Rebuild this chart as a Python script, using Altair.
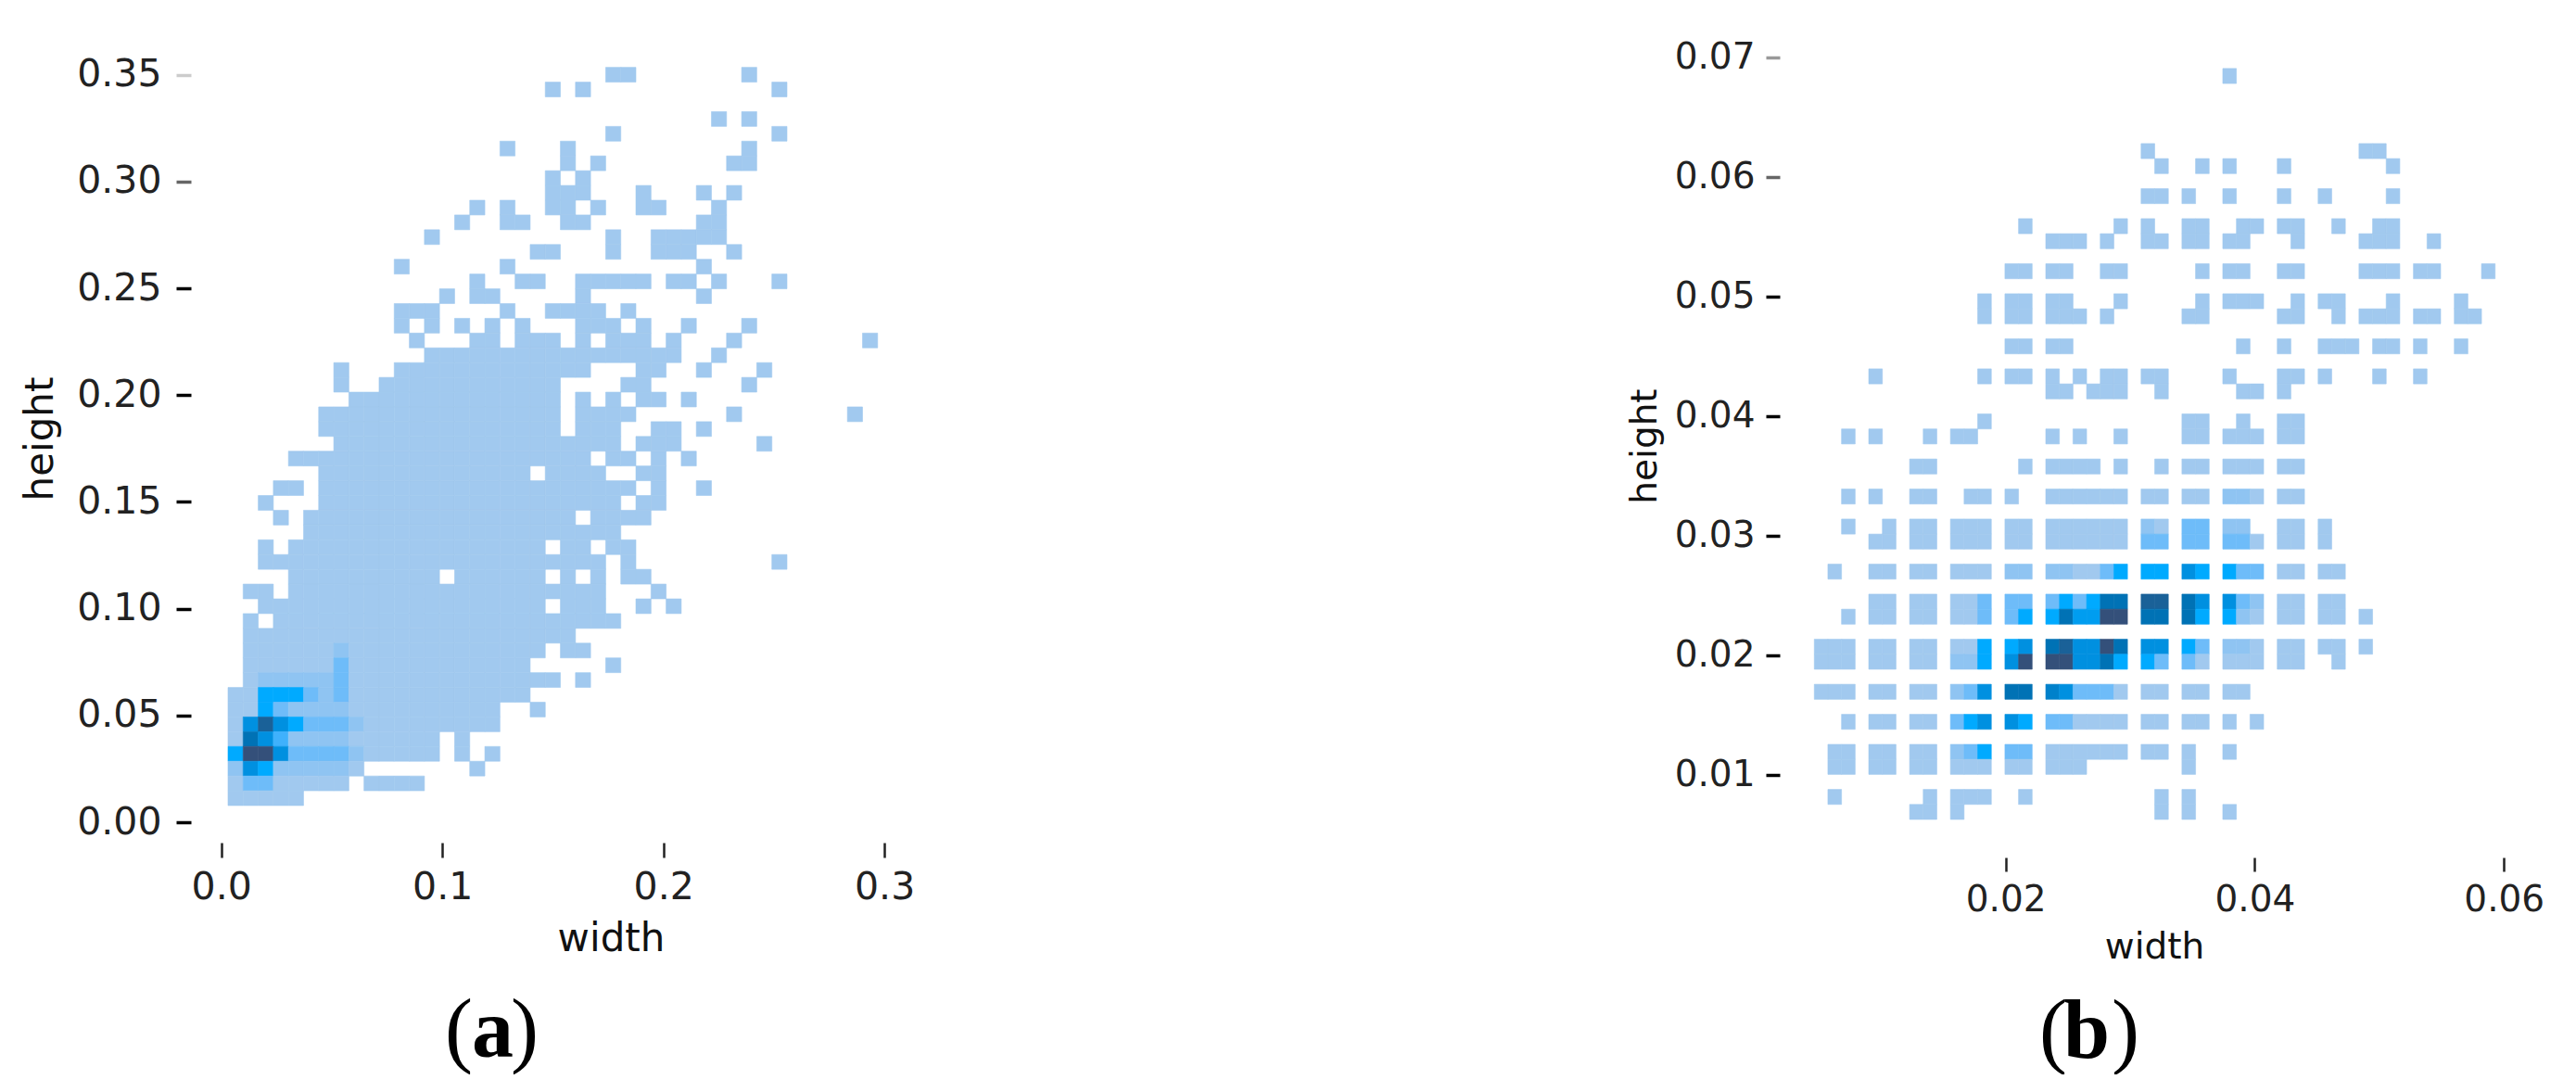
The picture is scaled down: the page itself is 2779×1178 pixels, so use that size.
import altair as alt
import pandas as pd

FONT = "DejaVu Sans"
LEVEL_STOPS = [1, 1.5, 2, 2.5, 3, 4, 5, 6]
LEVEL_COLORS = ["#a1c9ef", "#8fc4f2", "#6ebcf9", "#3fb1fc", "#00aaff", "#0090e0", "#0072b5", "#34507a"]

# panel (a): occupied bins per height-bin index (width-bin indices)
A_ROWS = {
    49: "25-26 34", 48: "21 23 36", 46: "32 34", 45: "25 36", 44: "18 22 34",
    43: "22 24 33-34", 42: "21 23", 41: "21-23 27 31 33", 40: "16 18 21-22 24 27-28 32",
    39: "15 18-19 22-23 31-32", 38: "13 25 28-32", 37: "20-21 25 28-30 33", 36: "11 18 31",
    35: "16 19-20 23-27 29-30 32 36", 34: "14 16-17 23 31", 33: "11-13 18 21-24 26",
    32: "11 13 15 17 19 23-25 27 30 34", 31: "12 16-17 19-21 23 25-27 29 33 42",
    30: "13-29 32", 29: "7 11-23 27-28 31 35", 28: "7 10-21 26-27 34",
    27: "8-21 23 25 27-28 30", 26: "6-21 23-26 33 41", 25: "6-21 23-25 28-29 31",
    24: "7-25 27-29 35", 23: "4-23 25-26 28 30", 22: "6-19 21-24 27-28",
    21: "3-4 6-26 28 31", 20: "2 6-25 27-28", 19: "3 5-22 24-27", 18: "5-25",
    17: "2 4-20 22-23 25-26", 16: "2-24 26 36", 15: "4-13 15-20 22 24 26-27",
    14: "1-2 4-24 28", 13: "2-20 22-24 27 29", 12: "1 3-25", 11: "1-22",
    10: "1-20 22-23", 9: "1-19 25", 8: "1-21 23", 7: "0-19", 6: "0-17 20", 5: "0-17",
    4: "0-13 15", 3: "0-13 15 17", 2: "0-8 16", 1: "0-7 9-12", 0: "0-4",
}
# denser bins of (a): {height bin: {width bin: level}}
A_LEVELS = {
    10: {7: 1.5}, 9: {7: 2}, 8: {2: 1.5, 3: 1.5, 4: 1.5, 5: 1.5, 6: 1.5, 7: 2},
    7: {2: 3, 3: 3, 4: 3, 5: 2, 6: 1.5, 7: 2},
    6: {2: 3, 3: 2, 4: 1.5, 5: 1.5, 6: 1.5, 7: 1.5},
    5: {1: 4, 2: 5.5, 3: 4, 4: 3, 5: 2, 6: 2, 7: 2, 8: 1.5},
    4: {1: 5, 2: 4, 3: 2.5, 4: 1.5, 5: 1.5, 6: 1.5, 7: 1.5},
    3: {0: 3, 1: 6, 2: 6, 3: 4, 4: 2, 5: 2, 6: 2, 7: 2, 8: 1.5},
    2: {0: 1.5, 1: 4, 2: 3, 3: 1.5, 4: 1.5, 5: 1.5, 6: 1.5, 7: 1.5},
    1: {1: 2, 2: 2},
}

# panel (b)
B_ROWS = {
    49: "30", 44: "24 40-41", 43: "25 28 30 34 42", 41: "24-25 27 30 34 37 42",
    39: "15 22 24 27-28 31-32 34-35 38 41-42", 38: "17-19 21 24-25 27-28 30-31 35 40-42 45",
    36: "14-15 17-18 21-22 28 30-31 34-35 40-42 44-45 49",
    34: "12 14-15 17-18 22 28 30-32 35 37-38 42 47",
    33: "12 14-15 17-19 21 27-28 34-35 38 40-42 44-45 47-48",
    31: "14-15 17-18 31 34 37-39 41-42 44 47",
    29: "4 12 14-15 17 19 21-22 24-25 30 34-35 37 41 44",
    28: "17-18 20-22 25 31-32 34",
    26: "12 27-28 31 34-35", 25: "2 4 8 10-11 17 19 22 27-28 30-32 34-35",
    23: "7-8 15 17-20 22 25 27-28 30-32 34-35",
    21: "2 4 7-8 11-12 14 17-22 24-25 27-28 30-32 34-35",
    19: "2 5 7-8 10-12 14-15 17-22 24-25 27-28 30-31 34-35 37",
    18: "4-5 7-8 10-12 14-15 17-22 24-25 27-28 30-32 34-35 37",
    16: "1 4-5 7-8 10-12 14-15 17-22 24-25 27-28 30-32 34-35 37-38",
    14: "4-5 7-8 10-12 14-15 17-22 24-25 27-28 30-32 34-35 37-38",
    13: "2 4-5 7-8 10-12 14-15 17-22 24-25 27-28 30-32 34-35 37-38 40",
    11: "0-2 4-5 7-8 10-12 14-15 17-22 24-25 27-28 30-32 34-35 37-38 40",
    10: "0-2 4-5 7-8 10-12 14-15 17-22 24-25 27-28 30-32 34-35 38",
    8: "0-2 4-5 7-8 10-12 14-15 17-22 24-25 27-28 30-31",
    6: "2 4-5 7-8 10-12 14-15 17-22 24-25 27-28 30 32",
    4: "1-2 4-5 7-8 10-12 14-15 17-22 24-25 27 30",
    3: "1-2 4-5 7-8 10-12 14-15 17-19 27",
    1: "1 8 10-12 15 25 27", 0: "7-8 10 25 27 30",
}
B_LEVELS = {
    21: {30: 1.5, 31: 1.5}, 19: {24: 1.5, 27: 2, 28: 2, 30: 1.5, 31: 1.5},
    18: {24: 2, 25: 2, 27: 2, 28: 2, 30: 2, 31: 2},
    16: {14: 1.5, 15: 1.5, 17: 1.5, 18: 1.5, 21: 2, 22: 3, 24: 3, 25: 3, 27: 4, 28: 3, 30: 3, 31: 2, 32: 2},
    14: {12: 2, 14: 2, 15: 2, 17: 2, 18: 3, 19: 2, 20: 3, 21: 5, 22: 5, 24: 5.5, 25: 5.5, 27: 5, 28: 4, 30: 4, 31: 2, 32: 1.5},
    13: {12: 2, 14: 2, 15: 3, 17: 3, 18: 5, 19: 3.5, 20: 3.5, 21: 6, 22: 6, 24: 5, 25: 5, 27: 5, 28: 3, 30: 3, 31: 1.5},
    11: {12: 3, 14: 3, 15: 4, 17: 5, 18: 5.5, 19: 4, 20: 4, 21: 6, 22: 5, 24: 4, 25: 4, 27: 3, 28: 2, 30: 1.5, 31: 1.5},
    10: {10: 1.5, 11: 1.5, 12: 3, 14: 4, 15: 6, 17: 6, 18: 6, 19: 4, 20: 4, 21: 5, 22: 3, 24: 3, 25: 2, 27: 2},
    8: {10: 1.5, 11: 2, 12: 4, 14: 5, 15: 5, 17: 4.5, 18: 4, 19: 2, 20: 2, 21: 2},
    6: {10: 2, 11: 3, 12: 4, 14: 4, 15: 3, 17: 2, 18: 2},
    4: {10: 1.5, 11: 2, 12: 3, 14: 2, 15: 2},
}

A_XTICKS = [0.0, 0.1, 0.2, 0.3]
A_YTICKS = [0.0, 0.05, 0.10, 0.15, 0.20, 0.25, 0.30, 0.35]
B_XTICKS = [0.02, 0.04, 0.06]
B_YTICKS = [0.01, 0.02, 0.03, 0.04, 0.05, 0.06, 0.07]

A_BINS = dict(x0=0.00306, dx=0.006834, y0=0.00782, dy=0.006913)
B_BINS = dict(x0=0.004643, dx=0.001093, y0=0.00628, dy=0.001256)


def cells(rows, levels, b):
    out = []
    for r, spec in rows.items():
        for part in spec.split():
            lo, _, hi = part.partition("-")
            for c in range(int(lo), int(hi or lo) + 1):
                out.append({
                    "width": b["x0"] + c * b["dx"], "width2": b["x0"] + (c + 1) * b["dx"],
                    "height": b["y0"] + r * b["dy"], "height2": b["y0"] + (r + 1) * b["dy"],
                    "level": levels.get(r, {}).get(c, 1),
                })
    return pd.DataFrame(out)


def caption(text, x, y, bold=False):
    return alt.Chart(pd.DataFrame({"t": [text]})).mark_text(
        font="Liberation Serif", fontSize=90, align="left", baseline="alphabetic",
        fontWeight="bold" if bold else "normal", color="#000000",
    ).encode(x=alt.value(x), y=alt.value(y), text="t:N")


def panel(df, xdom, ydom, xticks, yticks, xfmt, yfmt, w, h, fs, ts, tl, xpad, ypad, xtit, ytit, caps, ycond):
    color = alt.Color("level:Q", legend=None,
                      scale=alt.Scale(domain=LEVEL_STOPS, range=LEVEL_COLORS, interpolate="rgb"))
    stroke = alt.Stroke("level:Q", legend=None,
                        scale=alt.Scale(domain=LEVEL_STOPS, range=LEVEL_COLORS, interpolate="rgb"))
    rect = alt.Chart(df).mark_rect(strokeWidth=0.6).encode(
        x=alt.X("width:Q", scale=alt.Scale(domain=xdom, nice=False, zero=False),
                axis=alt.Axis(values=xticks, format=xfmt, title="width", grid=False, domain=False,
                              offset=7, tickSize=tl, tickWidth=2.5, tickColor="#222222",
                              labelFont=FONT, labelFontSize=fs, labelColor="#222222", labelPadding=xpad,
                              labelFlush=False, labelOverlap=False,
                              titleFont=FONT, titleFontSize=ts, titleFontWeight="normal", titleColor="#111111",
                              titlePadding=xtit)),
        x2="width2:Q",
        y=alt.Y("height:Q", scale=alt.Scale(domain=ydom, nice=False, zero=False),
                axis=alt.Axis(values=yticks, format=yfmt, title="height", grid=False, domain=False,
                              tickSize=tl, tickWidth=3.5, tickColor=ycond,
                              labelFont=FONT, labelFontSize=fs, labelColor="#222222", labelPadding=ypad,
                              labelFlush=False, labelOverlap=False,
                              titleFont=FONT, titleFontSize=ts, titleFontWeight="normal", titleColor="#111111",
                              titlePadding=ytit)),
        y2="height2:Q",
        color=color,
        stroke=stroke,
    )
    return alt.layer(rect, *caps).properties(width=w, height=h)


cond_a = {"condition": [{"test": "datum.value > 0.34", "value": "#cccccc"},
                        {"test": "datum.value > 0.29", "value": "#666666"}], "value": "#000000"}
cond_b = {"condition": [{"test": "datum.value > 0.065", "value": "#999999"},
                        {"test": "datum.value > 0.055", "value": "#666666"}], "value": "#000000"}

a = panel(cells(A_ROWS, A_LEVELS, A_BINS), [-0.01371, 0.3662], [-0.00651, 0.3659],
          A_XTICKS, A_YTICKS, ".1f", ".2f", 906, 858, 41, 42, 16, 12, 16, 15, 17,
          [caption("(", 274, 1096), caption("a", 303, 1096, True), caption(")", 345, 1096)], cond_a)
b = panel(cells(B_ROWS, B_LEVELS, B_BINS), [0.00187, 0.06199], [0.003643, 0.071395],
          B_XTICKS, B_YTICKS, ".2f", ".2f", 808, 874, 39, 39, 15, 11, 12, 12, 12,
          [caption("(", 280, 1097), caption("b", 306, 1097, True), caption(")", 358, 1097)], cond_b)

chart = alt.hconcat(a, b, spacing=643).properties(
    padding={"left": 14, "top": 34, "right": 0, "bottom": 0}, background="#ffffff"
).configure_view(stroke=None)

chart.save("out.html", embed_options={"renderer": "svg", "actions": False})
